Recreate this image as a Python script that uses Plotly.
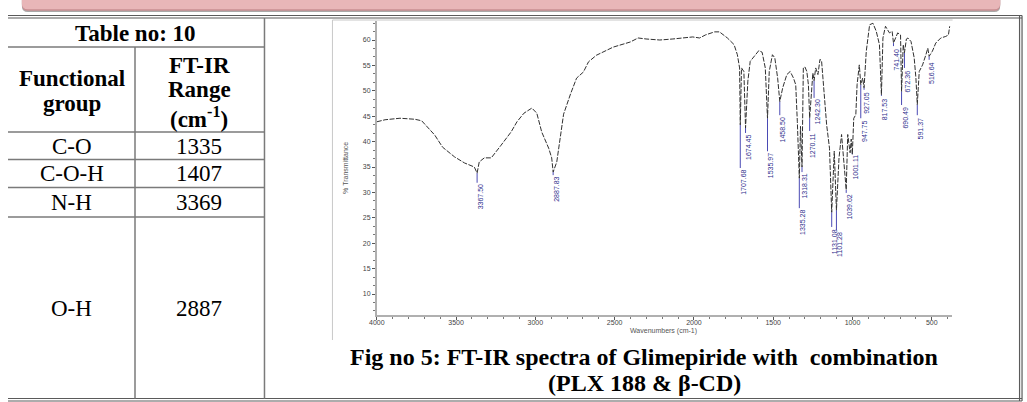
import plotly.graph_objects as go

W, H = 1027, 402

# ---------------- data ----------------
wavenumber = [4000, 3948, 3854, 3760, 3717, 3635, 3585, 3510, 3447, 3385, 3367.5, 3354, 3322, 3278,
              3216, 3153, 3116, 3072, 3022, 2991, 2960, 2916, 2897, 2887.83, 2865, 2840, 2822, 2778,
              2740, 2697, 2665, 2615, 2509, 2402, 2352, 2302, 2215, 2133, 2008, 1964, 1927, 1870,
              1839, 1789, 1747, 1726, 1712, 1707.68, 1700, 1685, 1674.45, 1660, 1645, 1591, 1570,
              1550, 1535.97, 1525, 1505, 1490, 1472, 1458.50, 1440, 1414, 1393, 1372, 1358, 1348,
              1335.28, 1328, 1318.31, 1310, 1300, 1288, 1278, 1270.11, 1258, 1250, 1242.30, 1232,
              1218, 1205, 1195, 1184, 1163, 1145, 1131.08, 1115, 1101.28, 1085, 1069, 1039.62,
              1030, 1015, 1008, 1001.11, 992, 979, 971, 957, 947.75, 936, 927.05, 913, 892, 871,
              850, 830, 817.53, 808, 792, 767, 750, 741.40, 715, 697, 690.49, 680, 672.36, 660,
              650, 631, 611, 600, 591.37, 579, 558, 537, 525, 516.64, 496, 475, 443, 412, 395, 387]
transmittance = [43.9, 44.3, 44.6, 44.4, 44.1, 41.3, 38.9, 37.0, 35.8, 35.0, 33.8, 36.0, 36.8, 36.8,
                 39.3, 41.9, 43.9, 45.6, 46.6, 45.6, 41.9, 38.7, 36.8, 34.0, 36.0, 41.9, 45.4, 49.4,
                 52.5, 53.7, 55.7, 57.0, 58.6, 59.6, 60.4, 60.2, 60.0, 60.2, 60.6, 60.4, 61.0, 61.6,
                 61.6, 60.4, 59.1, 57.1, 54.5, 43.3, 54.5, 53.8, 42.7, 51.9, 55.8, 57.9, 57.6,
                 54.5, 44.6, 53.8, 57.1, 56.5, 52.5, 47.9, 50.6, 53.2, 53.8, 52.5, 51.2, 44.0,
                 32.8, 43.0, 35.0, 54.5, 54.7, 53.8, 51.2, 44.6, 49.2, 53.5, 52.0, 54.5,
                 53.2, 56.2, 55.9, 51.2, 43.3, 38.7, 26.1, 38.1, 26.5, 36.8, 41.4, 30.5,
                 41.4, 37.8, 40.5, 37.5, 44.6, 45.3, 51.2, 55.1, 51.2, 52.5, 50.6, 57.8, 63.0, 63.3,
                 61.7, 59.1, 49.2, 60.4, 62.7, 61.4, 61.7, 59.4, 61.4, 61.0, 49.9, 59.1, 57.5, 60.2,
                 60.4, 59.7, 56.5, 52.5, 47.3, 53.8, 55.1, 57.1, 58.4, 56.8, 57.8, 59.4, 60.4, 60.7, 61.0, 62.7]

peak_wn = [3367.5, 2887.83, 1707.68, 1674.45, 1535.97, 1458.50, 1335.28, 1318.31, 1270.11, 1242.30,
           1131.08, 1101.28, 1039.62, 1001.11, 947.75, 927.05, 817.53, 741.40, 690.49, 672.36,
           591.37, 516.64]
peak_T = [33.8, 34.0, 43.3, 42.7, 44.6, 47.9, 32.8, 35.0, 44.6, 52.0,
          26.1, 26.5, 30.5, 37.5, 51.2, 50.6, 49.2, 59.4, 49.9, 57.5,
          47.3, 56.8]
peak_label = ["3367.50", "2887.83", "1707.68", "1674.45", "1535.97", "1458.50", "1335.28", "1318.31",
              "1270.11", "1242.30", "1131.08", "1101.28", "1039.62", "1001.11", "947.75", "927.05",
              "817.53", "741.40", "690.49", "672.36", "591.37", "516.64"]
label_T = [31.9, 33.4, 34.8, 41.7, 38.1, 45.2, 26.9, 34.0, 42.1, 48.6,
           23.2, 22.6, 29.9, 37.8, 44.6, 50.2, 49.0, 58.8, 47.2, 54.5,
           45.2, 56.1]

x_ticks = [4000, 3500, 3000, 2500, 2000, 1500, 1000, 500]
y_ticks = [10, 15, 20, 25, 30, 35, 40, 45, 50, 55, 60]

table_title = "Table no: 10"
col_headers = [["Functional", "group"], ["FT-IR", "Range", "(cm<sup>-1</sup>)"]]
table_groups = ["C-O", "C-O-H", "N-H", "O-H"]
table_ranges = ["1335", "1407", "3369", "2887"]
caption_lines = ["Fig no 5: FT-IR spectra of Glimepiride with  combination", "(PLX 188 &amp; β-CD)"]

# ---------------- helpers (pixel -> paper) ----------------
def px(x):
    return x / W

def py(y):
    return 1 - y / H

SERIF = "Liberation Serif, Times New Roman, serif"
SANS = "Liberation Sans, Arial, sans-serif"

fig = go.Figure()

# leader lines from peaks to labels
lx, ly = [], []
for w, t, lt in zip(peak_wn, peak_T, label_T):
    lx += [w, w, None]
    ly += [t, lt, None]
fig.add_trace(go.Scatter(x=lx, y=ly, mode="lines", line=dict(color="#4a4ab4", width=1),
                         hoverinfo="skip", showlegend=False))

fig.add_trace(go.Scatter(x=wavenumber, y=transmittance, mode="lines",
                         line=dict(color="#303030", width=1, dash="5px,1.5px"),
                         hoverinfo="skip", showlegend=False))

annotations = []
for w, lbl, lt in zip(peak_wn, peak_label, label_T):
    annotations.append(dict(x=w, y=lt, xref="x", yref="y", text=lbl, textangle=-90,
                            showarrow=False, xanchor="center", yanchor="top", xshift=3,
                            font=dict(size=7, color="#2e2e8c", family=SANS)))

# axis titles
annotations.append(dict(x=px(334), y=py(168), xref="paper", yref="paper", text="% Transmittance",
                        textangle=-90, showarrow=False, font=dict(size=7, color="#555", family=SANS)))
annotations.append(dict(x=px(661), y=py(337), xref="paper", yref="paper", text="Wavenumbers (cm-1)",
                        showarrow=False, font=dict(size=7, color="#555", family=SANS)))

# table text
def T(text, x, y, bold=False, size=23):
    annotations.append(dict(x=px(x), y=py(y), xref="paper", yref="paper",
                            text=("<b>%s</b>" % text) if bold else text, showarrow=False,
                            xanchor="center", yanchor="middle", borderpad=0,
                            font=dict(size=size, color="black", family=SERIF)))

T(table_title, 129, 33, bold=True)
for txt, yy in zip(col_headers[0], [78, 104]):
    T(txt, 64, yy, bold=True)
for txt, yy in zip(col_headers[1], [65, 90, 117]):
    T(txt, 193, yy, bold=True)
for g, r, yy in zip(table_groups, table_ranges, [146, 173, 202, 308]):
    T(g, 64, yy)
    T(r, 193, yy)
for txt, yy in zip(caption_lines, [356.5, 383]):
    T(txt, 641, yy, bold=True, size=24)

# shapes
shapes = []
def L(x0, y0, x1, y1, color="#7a7a7a", width=1.5):
    shapes.append(dict(type="line", xref="paper", yref="paper", x0=px(x0), y0=py(y0),
                       x1=px(x1), y1=py(y1), line=dict(color=color, width=width)))

# pink banner with shadow
def banner_path(dy):
    return ("M{a},{b} L{c},{d} Q{c},{e} {f},{e} L{g},{e} Q{h},{e} {h},{d} L{h},{b} Z"
            .format(a=px(14), b=py(-3), c=px(14), d=py(4 + dy), e=py(10 + dy), f=px(20),
                    g=px(994), h=px(1000)))
shapes.append(dict(type="path", xref="paper", yref="paper", path=banner_path(2.0),
                   fillcolor="#a9a9a9", line=dict(width=0)))
shapes.append(dict(type="path", xref="paper", yref="paper", path=banner_path(0.8),
                   fillcolor="#c98e92", line=dict(width=0)))
shapes.append(dict(type="path", xref="paper", yref="paper", path=banner_path(-0.8),
                   fillcolor="#e8b6b8", line=dict(width=0)))

# outer double borders
for yy in [15.5, 18]:
    L(0, yy, 1022, yy, "#5a5a5a", 1.2)
for yy in [398.5, 401]:
    L(0, yy, 1022, yy, "#5a5a5a", 1.2)
for xx in [1019.5, 1022]:
    L(xx, 15.5, xx, 401, "#5a5a5a", 1.2)
# table grid
L(128, 47, 128, 398.5)
L(258.5, 18, 258.5, 398.5)
for yy in [47, 132, 159.5, 187.5, 217]:
    L(0, yy, 258.5, yy)
# chart frame
L(327, 20, 327, 340, "#c8c8c8", 1)
L(327, 20, 952, 20, "#c8c8c8", 1)

fig.update_layout(
    width=W, height=H, autosize=False,
    margin=dict(l=0, r=0, t=0, b=0),
    paper_bgcolor="white", plot_bgcolor="white",
    showlegend=False,
    annotations=annotations,
    shapes=shapes,
    xaxis=dict(domain=[px(371.7), px(951)], range=[4000, 375], tickvals=x_ticks,
               ticks="outside", ticklen=3, tickcolor="#555", tickwidth=1,
               showline=True, linecolor="#b0b0b0", linewidth=1.5,
               showgrid=False, zeroline=False, ticklabelstandoff=-3,
               tickfont=dict(size=7, color="#444", family=SANS),
               minor=dict(dtick=100, ticks="outside", ticklen=2, tickcolor="#777")),
    yaxis=dict(domain=[py(315), py(21)], range=[5.87, 63.74], tickvals=y_ticks,
               ticks="outside", ticklen=3, tickcolor="#555", tickwidth=1,
               showline=True, linecolor="#b0b0b0", linewidth=1.5,
               showgrid=False, zeroline=False,
               tickfont=dict(size=7, color="#444", family=SANS),
               minor=dict(dtick=5 / 3, tick0=0, ticks="outside", ticklen=2, tickcolor="#777")),
)

fig.write_html("out.html")
